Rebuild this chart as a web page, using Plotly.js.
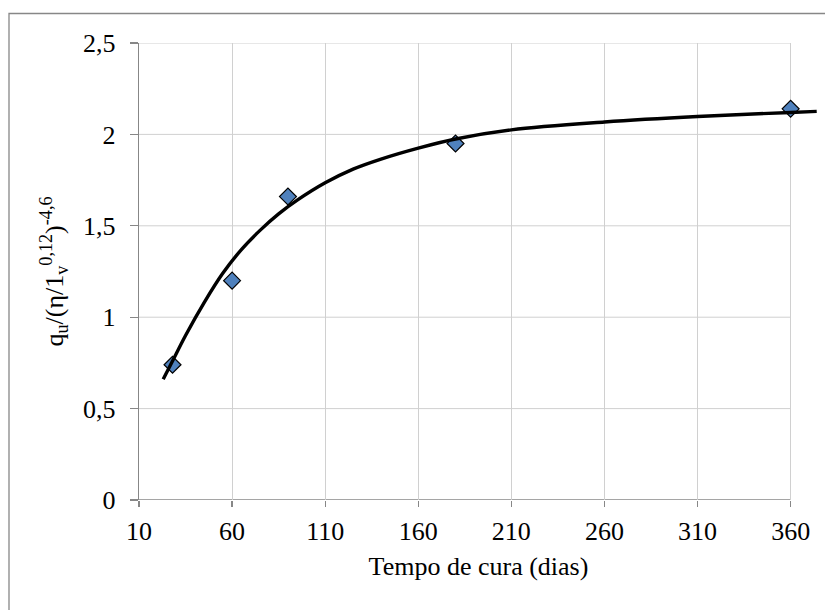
<!DOCTYPE html>
<html>
<head>
<meta charset="utf-8">
<script src="https://cdn.plot.ly/plotly-3.0.1.min.js"></script>
<style>
  html, body { margin: 0; padding: 0; background: #ffffff; overflow: hidden; }
  #chart { width: 825px; height: 610px; }
</style>
</head>
<body>
<div id="chart"></div>
<script>
// ---- data ----
const cureDays   = [28, 60, 90, 180, 360];
const normStrength = [0.74, 1.20, 1.66, 1.95, 2.14];

const fitDays  = [23, 28, 35, 45, 55, 65, 75, 85, 95, 110, 125, 140, 160, 180, 210, 260, 310, 360, 374];
const fitValues = [0.66, 0.76, 0.90, 1.08, 1.24, 1.37, 1.475, 1.565, 1.64, 1.735, 1.81, 1.865, 1.925, 1.975, 2.025, 2.068, 2.098, 2.12, 2.126];

const xTickVals  = [10, 60, 110, 160, 210, 260, 310, 360];
const xTickText  = ["10", "60", "110", "160", "210", "260", "310", "360"];
const yTickVals  = [0, 0.5, 1, 1.5, 2, 2.5];
const yTickText  = ["0", "0,5", "1", "1,5", "2", "2,5"];

const xTitle = "Tempo de cura (dias)";
const yTitle = "q<sub>u</sub>/(η/1<sub>v</sub><sup>0,12</sup>)<sup>-4,6</sup>";

// ---- layout geometry ----
const W = 825, H = 610;
const mL = 139, mR = 7, mT = 43, mB = 110;
const xMin = 10, xMax = 374.7;
const yMin = 0, yMax = 2.5;
const plotW = W - mL - mR, plotH = H - mT - mB;
const gridColor = "#d0d0d0";
const axisColor = "#878787";
const font = "Liberation Serif";
const fnt = {family: font, size: 26, color: "#000000"};

const xLast = xTickVals[xTickVals.length - 1];

const shapes = [];
yTickVals.forEach(v => {
  if (v === 0) return;
  shapes.push({type: "line", xref: "x", yref: "y", x0: xTickVals[0], x1: xLast, y0: v, y1: v,
               line: {color: gridColor, width: 1}, layer: "below"});
});
shapes.push({type: "line", xref: "x", yref: "y", x0: xTickVals[0], x1: xLast, y0: 0, y1: 0,
             line: {color: axisColor, width: 1.3}, layer: "below"});
shapes.push({type: "rect", xref: "paper", yref: "paper",
             x0: (9 - mL) / plotW, x1: (W + 20 - mL) / plotW,
             y0: -(H + 20 - mT - plotH) / plotH, y1: (plotH + mT - 13.5) / plotH,
             line: {color: axisColor, width: 1.3}, fillcolor: "rgba(0,0,0,0)", layer: "above"});

const traces = [
  {
    x: cureDays, y: normStrength, type: "scatter", mode: "markers",
    marker: {symbol: "diamond", size: 13, color: "#4f81bd", line: {color: "#000000", width: 1.2}},
    cliponaxis: false, hoverinfo: "skip"
  },
  {
    x: fitDays, y: fitValues, type: "scatter", mode: "lines",
    line: {color: "#000000", width: 3.4, shape: "spline", smoothing: 1},
    hoverinfo: "skip"
  }
];

const layout = {
  width: W, height: H,
  margin: {l: mL, r: mR, t: mT, b: mB, pad: 0},
  paper_bgcolor: "#ffffff", plot_bgcolor: "#ffffff",
  showlegend: false,
  font: fnt,
  xaxis: {
    range: [xMin, xMax], tickmode: "array", tickvals: xTickVals, ticktext: xTickText,
    showgrid: true, gridcolor: gridColor, gridwidth: 1, zeroline: false,
    showline: false, ticks: "outside", ticklen: 6, tickwidth: 1.3, tickcolor: axisColor,
    ticklabelstandoff: 2,
    tickfont: fnt,
    title: {text: xTitle, font: fnt, standoff: 11},
    fixedrange: true
  },
  yaxis: {
    range: [yMin, yMax], tickmode: "array", tickvals: yTickVals, ticktext: yTickText,
    showgrid: false, zeroline: false,
    showline: true, linecolor: axisColor, linewidth: 1.3,
    ticks: "outside", ticklen: 8, tickwidth: 1.3, tickcolor: axisColor,
    ticklabelstandoff: 9,
    tickfont: fnt,
    title: {text: yTitle, font: fnt, standoff: 12},
    fixedrange: true
  },
  shapes: shapes
};

Plotly.newPlot("chart", traces, layout, {displayModeBar: false, staticPlot: true});
</script>
</body>
</html>
